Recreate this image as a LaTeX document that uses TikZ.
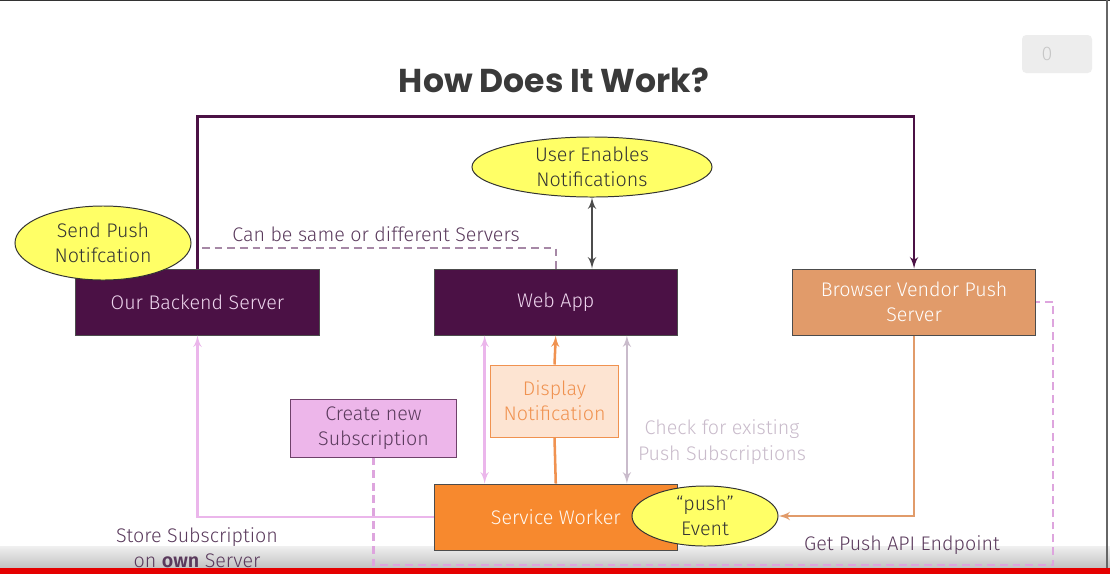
\documentclass[tikz,border=0pt]{standalone}
\usepackage{fontspec}
\setmainfont{Fira Sans}[UprightFont={* Light},BoldFont={* SemiBold}]
\newfontfamily\titlefont{Poppins}
\usepackage{tikz}
\usetikzlibrary{shapes,arrows,positioning,calc}
\definecolor{ServerPurple}{RGB}{75, 17, 69}
\definecolor{ServerText}{RGB}{238, 214, 238}
\definecolor{VendorOrange}{RGB}{225, 155, 106}
\definecolor{WorkerOrange}{RGB}{247, 137, 46}
\definecolor{BubbleYellow}{RGB}{255, 255, 102}
\definecolor{DisplayFill}{RGB}{253, 228, 210}
\definecolor{DisplayOrange}{RGB}{240, 146, 80}
\definecolor{CreatePink}{RGB}{237, 182, 234}
\definecolor{LabelPurple}{RGB}{90, 58, 92}
\definecolor{LinkPink}{RGB}{235, 182, 235}
\definecolor{DashPink}{RGB}{222, 165, 222}
\definecolor{CheckGray}{RGB}{201, 187, 203}
\definecolor{SameDash}{RGB}{166, 136, 166}
\definecolor{TitleGray}{RGB}{58, 58, 58}

\begin{document}
\begin{tikzpicture}[x=0.025cm, y=-0.025cm, font=\fontsize{14}{18}\selectfont]
  \tikzstyle{server} = [rectangle, draw=black!70, fill=ServerPurple, text=ServerText, align=center, minimum width=6.08cm, minimum height=1.65cm, inner sep=0pt, line width=0.7pt]
  \tikzstyle{bubble} = [ellipse, draw=black!80, fill=BubbleYellow, text=black!80, align=center, inner sep=0pt, line width=0.7pt]
  \tikzstyle{line} = [draw, -latex', line width=1.8pt]
  \tikzstyle{dashline} = [draw, dash pattern=on 5.5pt off 3.5pt, line width=1.5pt]
  \tikzstyle{tag} = [align=center, text=LabelPurple]

  \useasboundingbox (0,0) rectangle (1110,574);
  \fill[white] (0,0) rectangle (1110,574);

  % player overlay
  \shade[top color=black!6, bottom color=black!24] (0,546) rectangle (1110,568);
  \fill[red!90!black] (0,568) rectangle (1110,574);
  \draw[black!80, line width=1pt] (0,0.5) -- (1110,0.5);
  \draw[black!60, line width=0.8pt] (1107,0) -- (1107,568);
  \fill[black!7, rounded corners=3pt] (1022,35) rectangle (1092,73);
  \node[text=black!22] (counter) at (1047,54) {0};

  \node[font=\titlefont\bfseries\fontsize{23.5}{28}\selectfont, text=TitleGray] (title) at (554,80) {How Does It Work?};

  % main boxes
  \node [server] (backend) at (197.5,302) {Our Backend Server};
  \node [server, right=2.85cm of backend] (webapp) {Web App};
  \node [server, right=2.85cm of webapp, fill=VendorOrange, text=white] (vendor) {Browser Vendor Push\\Server};
  \node [server, below=3.7cm of webapp, fill=WorkerOrange, text=white!95!orange] (worker) {Service Worker};
  \node [rectangle, draw=DisplayOrange, fill=DisplayFill, text=DisplayOrange, align=center, minimum width=3.18cm, minimum height=1.8cm, line width=0.7pt] (display) at (554.5,401) {Display\\Notification};
  \node [rectangle, draw=ServerPurple!80, fill=CreatePink, text=LabelPurple, align=center, minimum width=4.13cm, minimum height=1.45cm, line width=0.7pt] (create) at (373.5,428) {Create new\\Subscription};

  % bubbles
  \node [bubble, minimum width=6cm, minimum height=1.5cm] (enable) at (592,167) {User Enables\\Notifications};
  \node [bubble, minimum width=4.4cm, minimum height=1.85cm] (send) at (103,243) {Send Push\\Notifcation};

  % connectors
  \path [line, ServerPurple] (backend.north) -- ++(0,-152) -| (vendor.north);
  \coordinate (samestart) at (202,248);
  \path [dashline, SameDash] (samestart) -| (webapp.north);
  \node [tag] (samelabel) at (376,234) {Can be same or different Servers};
  \path [line, black!70, latex'-latex'] (enable.south) -- (enable.south |- webapp.north);

  \path [line, LinkPink] (worker.west) -| (backend.south);
  \path [line, LinkPink, latex'-latex'] ($(webapp.south west)+(51,0)$) -- ($(worker.north west)+(51,0)$);
  \draw [DisplayOrange, line width=1.8pt] (worker.north) -- (display.south);
  \path [line, DisplayOrange] (display.north) -- (webapp.south);
  \path [line, CheckGray, latex'-latex'] ($(webapp.south east)+(-51,0)$) -- ($(worker.north east)+(-51,0)$);
  \node [align=center, text=CheckGray] (checklabel) at (722,442) {Check for existing\\Push Subscriptions};

  \node [bubble, minimum width=3.65cm, minimum height=1.5cm] (push) at (705,516) {“push”\\Event};
  \path [line, VendorOrange] (vendor.south) |- (push.east);
  \node [tag] (endpointlabel) at (902,545) {Get Push API Endpoint};

  \coordinate (dashcorner) at (1053,565);
  \path [dashline, DashPink] (create.south) |- (dashcorner) |- (vendor.east);
  \node [tag] (storelabel) at (197,548) {Store Subscription\\on \textbf{own} Server};
\end{tikzpicture}
\end{document}
